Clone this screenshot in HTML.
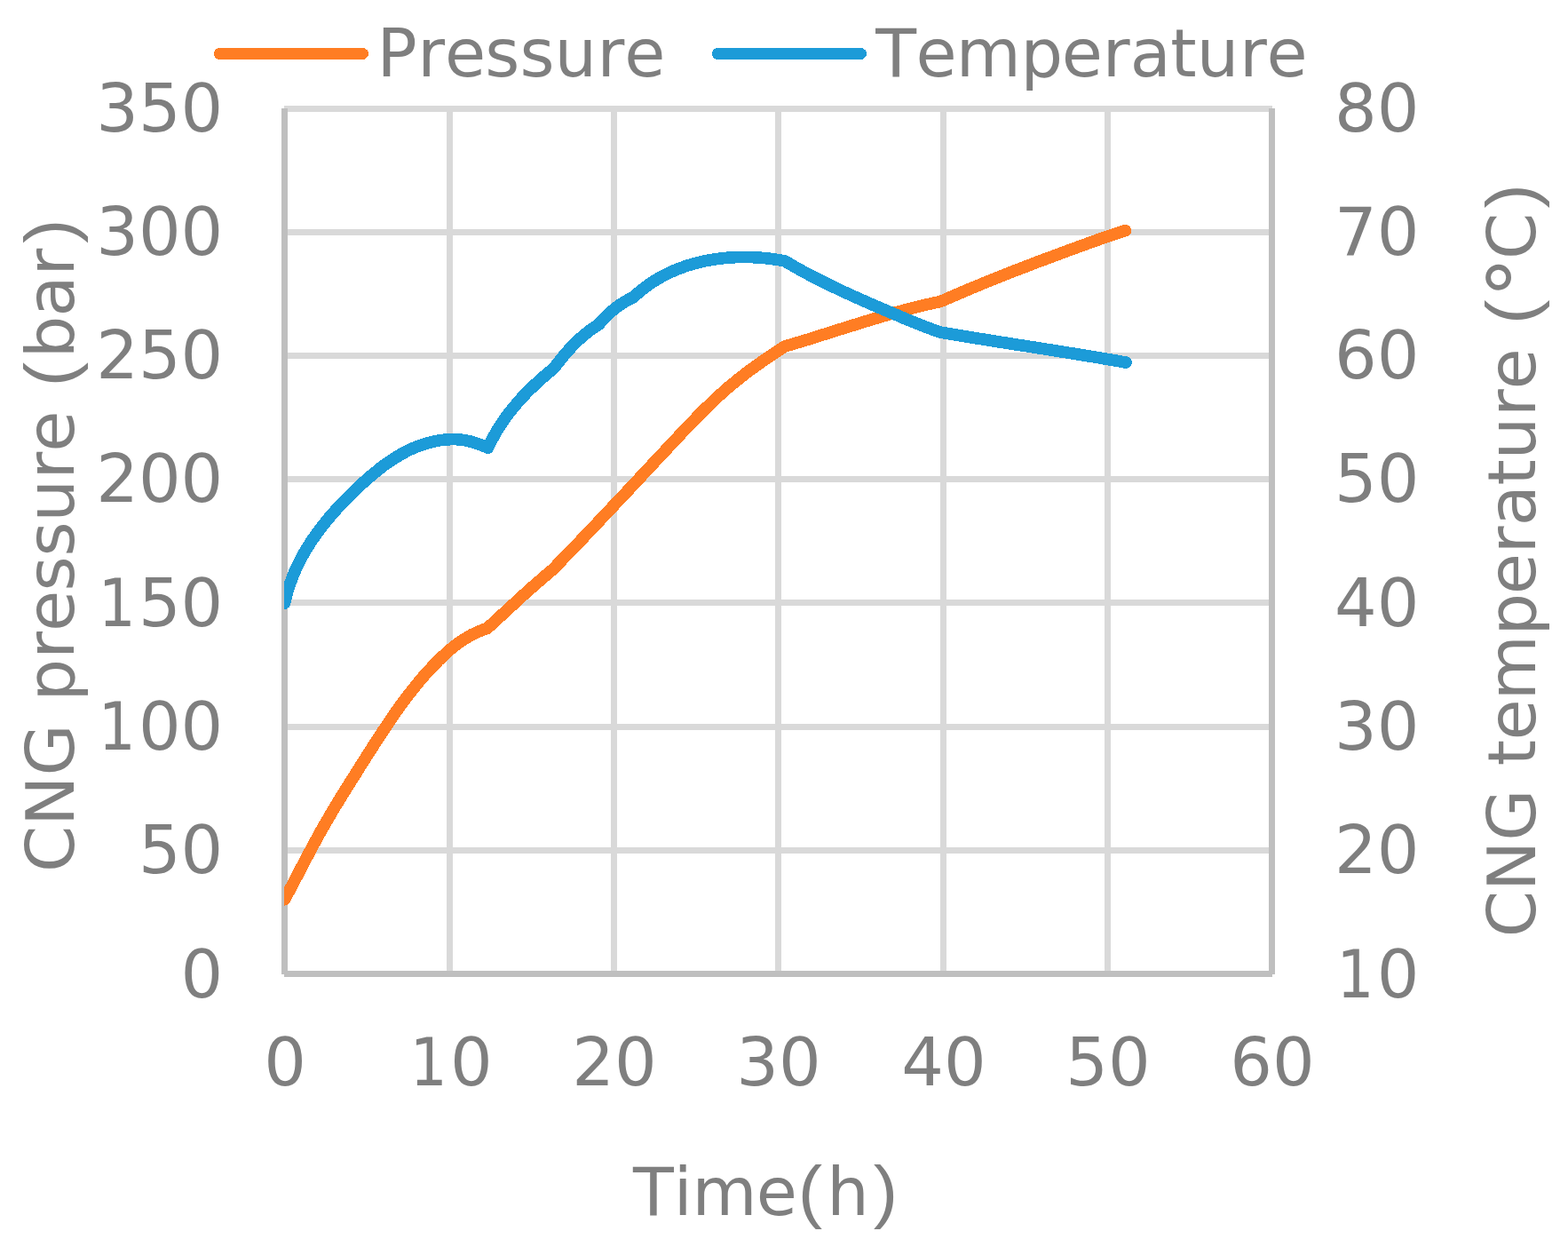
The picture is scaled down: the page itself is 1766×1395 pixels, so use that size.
<!DOCTYPE html>
<html lang="en">
<head>
<meta charset="utf-8">
<title>CNG pressure and temperature vs time</title>
<style>
html,body{margin:0;padding:0;background:#fff;}
body{width:1766px;height:1395px;overflow:hidden;}
svg{display:block;}
text{font-family:"DejaVu Sans","Liberation Sans",sans-serif;font-size:75px;fill:#7f7f7f;font-kerning:none;white-space:pre;}
</style>
</head>
<body>
<svg width="1766" height="1395" viewBox="0 0 1766 1395">
<rect width="1766" height="1395" fill="#fff"/>
<defs><clipPath id="plot"><rect x="320" y="100" width="1113" height="1020"/></clipPath></defs>

<g stroke="#d9d9d9" stroke-width="7" fill="none" shape-rendering="crispEdges">
<line x1="320" y1="122.5" x2="1433" y2="122.5"/>
<line x1="320" y1="261.5" x2="1433" y2="261.5"/>
<line x1="320" y1="400.5" x2="1433" y2="400.5"/>
<line x1="320" y1="539.5" x2="1433" y2="539.5"/>
<line x1="320" y1="678.5" x2="1433" y2="678.5"/>
<line x1="320" y1="818.5" x2="1433" y2="818.5"/>
<line x1="320" y1="957.5" x2="1433" y2="957.5"/>
<line x1="506.5" y1="122" x2="506.5" y2="1097"/>
<line x1="691.5" y1="122" x2="691.5" y2="1097"/>
<line x1="876.5" y1="122" x2="876.5" y2="1097"/>
<line x1="1062.5" y1="122" x2="1062.5" y2="1097"/>
<line x1="1247.5" y1="122" x2="1247.5" y2="1097"/>
</g>
<g stroke="#bfbfbf" stroke-width="7" fill="none" shape-rendering="crispEdges">
<line x1="320" y1="1096.5" x2="1433" y2="1096.5"/>
<line x1="320.5" y1="122" x2="320.5" y2="1097"/>
<line x1="1432.5" y1="122" x2="1432.5" y2="1097"/>
</g>
<g fill="none" stroke-width="13.6" stroke-linecap="round" stroke-linejoin="round" clip-path="url(#plot)" shape-rendering="crispEdges">
<path stroke="#ff7d23" d="M320.5,1012.7 L323.4,1007.4 L326.2,1002.1 L329.1,996.7 L331.9,991.4 L334.7,986.0 L337.5,980.6 L340.3,975.2 L343.1,969.9 L345.9,964.5 L348.8,959.1 L351.6,953.8 L354.5,948.4 L357.4,943.1 L360.3,937.8 L363.3,932.5 L366.3,927.3 L369.3,922.1 L372.4,916.9 L375.4,911.7 L378.6,906.5 L381.7,901.4 L384.8,896.2 L388.0,891.1 L391.2,886.0 L394.4,880.9 L397.6,875.8 L400.9,870.7 L404.1,865.5 L407.3,860.4 L410.6,855.3 L413.8,850.2 L417.1,845.0 L420.4,839.9 L423.7,834.8 L427.0,829.7 L430.3,824.6 L433.7,819.5 L437.1,814.5 L440.5,809.4 L443.9,804.4 L447.4,799.5 L451.0,794.5 L454.6,789.7 L458.2,784.8 L461.9,780.0 L465.6,775.3 L469.4,770.6 L473.3,765.9 L477.2,761.3 L481.2,756.8 L485.3,752.4 L489.4,748.0 L493.7,743.7 L498.0,739.5 L502.4,735.4 L506.9,731.4 L511.6,727.6 L516.4,724.0 L521.3,720.6 L526.4,717.5 L531.7,714.5 L537.1,711.9 L542.7,709.6 L548.6,707.6 L553.2,703.4 L557.8,699.2 L562.4,694.9 L567.0,690.7 L571.6,686.4 L576.2,682.2 L580.8,678.0 L585.4,673.7 L590.0,669.5 L594.7,665.4 L599.3,661.2 L604.0,657.1 L608.7,653.0 L613.5,648.9 L618.2,644.8 L623.0,640.8 L627.2,636.4 L631.4,632.1 L635.6,627.7 L639.8,623.4 L644.0,619.0 L648.2,614.6 L652.4,610.3 L656.6,605.9 L660.8,601.5 L664.9,597.1 L669.1,592.7 L673.3,588.3 L677.4,583.9 L681.6,579.5 L685.7,575.1 L689.9,570.7 L694.0,566.3 L698.2,561.9 L702.3,557.5 L706.5,553.1 L710.6,548.7 L714.7,544.3 L718.9,539.8 L723.0,535.4 L727.2,531.0 L731.3,526.6 L735.4,522.1 L739.6,517.7 L743.7,513.3 L747.8,508.9 L752.0,504.4 L756.1,500.0 L760.2,495.6 L764.4,491.2 L768.5,486.8 L772.7,482.4 L776.9,478.0 L781.1,473.6 L785.3,469.3 L789.6,465.0 L793.8,460.7 L798.2,456.5 L802.5,452.3 L806.9,448.2 L811.4,444.1 L815.9,440.1 L820.4,436.1 L825.1,432.2 L829.8,428.4 L834.5,424.6 L839.3,420.9 L844.1,417.2 L849.0,413.7 L854.0,410.1 L858.9,406.6 L863.9,403.2 L869.0,399.8 L874.0,396.5 L879.1,393.2 L884.2,389.9 L890.0,388.2 L895.8,386.5 L901.7,384.7 L907.5,382.9 L913.3,381.2 L919.1,379.3 L924.9,377.5 L930.7,375.7 L936.5,373.9 L942.2,372.0 L948.0,370.2 L953.8,368.4 L959.6,366.6 L965.4,364.8 L971.2,363.0 L977.0,361.2 L982.8,359.4 L988.7,357.7 L994.5,356.0 L1000.3,354.3 L1006.2,352.6 L1012.0,351.0 L1017.9,349.4 L1023.7,347.8 L1029.6,346.3 L1035.5,344.8 L1041.4,343.4 L1047.3,342.1 L1053.3,340.8 L1059.2,339.5 L1064.7,337.1 L1070.2,334.7 L1075.8,332.3 L1081.3,329.9 L1086.9,327.6 L1092.4,325.2 L1098.0,322.9 L1103.6,320.6 L1109.1,318.3 L1114.7,316.0 L1120.3,313.8 L1125.9,311.6 L1131.5,309.3 L1137.1,307.1 L1142.7,304.9 L1148.4,302.7 L1154.0,300.6 L1159.6,298.4 L1165.2,296.2 L1170.9,294.1 L1176.5,292.0 L1182.2,289.9 L1187.8,287.8 L1193.5,285.7 L1199.1,283.6 L1204.8,281.5 L1210.5,279.4 L1216.1,277.4 L1221.8,275.3 L1227.5,273.3 L1233.1,271.2 L1238.8,269.2 L1244.5,267.3 L1250.2,265.3 L1255.9,263.4 L1261.7,261.5 L1267.4,259.7"/>
<path stroke="#1c9bd8" d="M320.5,679.1 L321.9,673.0 L323.5,667.1 L325.3,661.2 L327.3,655.5 L329.4,649.8 L331.7,644.2 L334.2,638.7 L336.8,633.3 L339.5,628.0 L342.4,622.8 L345.4,617.7 L348.6,612.6 L351.9,607.6 L355.3,602.7 L358.8,597.8 L362.4,593.0 L366.2,588.3 L370.0,583.7 L373.9,579.1 L377.9,574.6 L382.0,570.1 L386.2,565.7 L390.5,561.3 L394.8,557.0 L399.2,552.7 L403.6,548.5 L408.1,544.3 L412.7,540.2 L417.3,536.2 L422.0,532.3 L426.7,528.4 L431.5,524.7 L436.4,521.2 L441.4,517.8 L446.5,514.6 L451.6,511.5 L456.9,508.7 L462.2,506.0 L467.7,503.6 L473.2,501.5 L478.9,499.6 L484.6,498.0 L490.5,496.6 L496.4,495.6 L502.5,494.9 L508.6,494.6 L514.7,494.7 L520.7,495.3 L526.7,496.3 L532.6,497.8 L538.3,499.7 L544.0,501.9 L549.6,504.2 L552.2,498.6 L555.1,493.1 L558.1,487.7 L561.2,482.4 L564.6,477.2 L568.0,472.1 L571.7,467.1 L575.5,462.2 L579.4,457.5 L583.4,452.7 L587.5,448.1 L591.8,443.6 L596.1,439.2 L600.6,434.9 L605.1,430.6 L609.7,426.5 L614.3,422.4 L619.0,418.5 L623.8,414.6 L627.7,409.5 L631.7,404.4 L635.8,399.4 L640.0,394.6 L644.4,389.9 L648.9,385.3 L653.6,380.9 L658.5,376.7 L663.5,372.7 L668.8,369.0 L674.2,365.5 L678.4,360.7 L682.7,356.1 L687.4,351.8 L692.2,347.6 L697.3,343.8 L702.6,340.3 L708.1,337.2 L713.8,334.4 L718.3,330.2 L723.0,326.3 L727.8,322.6 L732.8,319.1 L737.8,315.8 L743.0,312.7 L748.3,309.8 L753.7,307.2 L759.1,304.7 L764.7,302.4 L770.3,300.4 L776.0,298.5 L781.8,296.8 L787.7,295.3 L793.6,293.9 L799.5,292.8 L805.5,291.8 L811.5,291.0 L817.5,290.4 L823.6,289.9 L829.7,289.6 L835.7,289.5 L841.8,289.5 L847.9,289.7 L853.9,290.0 L860.0,290.5 L866.0,291.1 L872.0,291.9 L877.9,292.8 L883.8,293.8 L889.0,296.9 L894.2,299.9 L899.5,302.9 L904.8,305.8 L910.1,308.7 L915.5,311.5 L920.9,314.2 L926.3,317.0 L931.7,319.6 L937.1,322.3 L942.6,324.9 L948.1,327.5 L953.5,330.0 L959.0,332.5 L964.6,335.0 L970.1,337.5 L975.6,339.9 L981.2,342.4 L986.7,344.8 L992.3,347.2 L997.8,349.6 L1003.4,352.0 L1009.0,354.3 L1014.5,356.7 L1020.1,359.1 L1025.7,361.4 L1031.3,363.7 L1036.9,365.9 L1042.5,368.1 L1048.2,370.2 L1053.9,372.3 L1059.6,374.2 L1065.5,375.2 L1071.5,376.2 L1077.4,377.2 L1083.4,378.2 L1089.4,379.2 L1095.3,380.1 L1101.3,381.1 L1107.2,382.0 L1113.2,383.0 L1119.1,383.9 L1125.1,384.9 L1131.1,385.8 L1137.0,386.7 L1143.0,387.7 L1148.9,388.6 L1154.9,389.5 L1160.9,390.5 L1166.8,391.4 L1172.8,392.3 L1178.7,393.3 L1184.7,394.2 L1190.7,395.2 L1196.6,396.1 L1202.6,397.1 L1208.5,398.0 L1214.5,399.0 L1220.4,400.0 L1226.4,401.0 L1232.3,401.9 L1238.3,402.9 L1244.2,404.0 L1250.2,405.0 L1256.1,406.0 L1262.1,407.0 L1268.0,408.1"/>
</g>
<g fill="none" stroke-width="13" stroke-linecap="round" shape-rendering="crispEdges">
<line stroke="#ff7d23" x1="247.5" y1="60.5" x2="408.5" y2="60.5"/>
<line stroke="#1c9bd8" x1="808.5" y1="60.5" x2="969.5" y2="60.5"/>
</g>
<text transform="translate(424.40,85.70)" aria-label="Pressure"><tspan x="0.00 45.81 76.50 121.91 160.99 200.02 248.11 278.80" y="0">Pressure</tspan></text>
<text transform="translate(986.00,85.70)" aria-label="Temperature"><tspan x="0.20 45.48 90.84 163.40 209.84 255.83 286.80 332.37 361.82 409.90 440.59" y="0">Temperature</tspan></text>
<text transform="translate(108.26,147.60)" aria-label="350"><tspan x="-0.02 47.66 95.34" y="0">350</tspan></text>
<text transform="translate(108.26,286.89)" aria-label="300"><tspan x="-0.02 47.66 95.34" y="0">300</tspan></text>
<text transform="translate(108.26,426.17)" aria-label="250"><tspan x="-0.02 47.66 95.34" y="0">250</tspan></text>
<text transform="translate(108.26,565.46)" aria-label="200"><tspan x="-0.02 47.66 95.34" y="0">200</tspan></text>
<text transform="translate(108.26,704.74)" aria-label="150"><tspan x="2.54" y="0" textLength="41.99" lengthAdjust="spacingAndGlyphs">1</tspan><tspan x="47.66 95.34" y="0">50</tspan></text>
<text transform="translate(108.26,844.03)" aria-label="100"><tspan x="2.54" y="0" textLength="41.99" lengthAdjust="spacingAndGlyphs">1</tspan><tspan x="47.66 95.34" y="0">00</tspan></text>
<text transform="translate(155.94,983.31)" aria-label="50"><tspan x="-0.02 47.66" y="0">50</tspan></text>
<text transform="translate(203.62,1122.60)" aria-label="0"><tspan x="-0.02" y="0">0</tspan></text>
<text transform="translate(1503.00,147.60)" aria-label="80"><tspan x="-0.02 47.66" y="0">80</tspan></text>
<text transform="translate(1503.00,286.89)" aria-label="70"><tspan x="-0.02 47.66" y="0">70</tspan></text>
<text transform="translate(1503.00,426.17)" aria-label="60"><tspan x="-0.02 47.66" y="0">60</tspan></text>
<text transform="translate(1503.00,565.46)" aria-label="50"><tspan x="-0.02 47.66" y="0">50</tspan></text>
<text transform="translate(1503.00,704.74)" aria-label="40"><tspan x="-0.02 47.66" y="0">40</tspan></text>
<text transform="translate(1503.00,844.03)" aria-label="30"><tspan x="-0.02 47.66" y="0">30</tspan></text>
<text transform="translate(1503.00,983.31)" aria-label="20"><tspan x="-0.02 47.66" y="0">20</tspan></text>
<text transform="translate(1503.00,1122.60)" aria-label="10"><tspan x="2.54" y="0" textLength="41.99" lengthAdjust="spacingAndGlyphs">1</tspan><tspan x="47.66" y="0">0</tspan></text>
<text transform="translate(297.16,1222.00)" aria-label="0"><tspan x="-0.02" y="0">0</tspan></text>
<text transform="translate(459.32,1222.00)" aria-label="10"><tspan x="2.54" y="0" textLength="41.99" lengthAdjust="spacingAndGlyphs">1</tspan><tspan x="47.66" y="0">0</tspan></text>
<text transform="translate(644.32,1222.00)" aria-label="20"><tspan x="-0.02 47.66" y="0">20</tspan></text>
<text transform="translate(829.32,1222.00)" aria-label="30"><tspan x="-0.02 47.66" y="0">30</tspan></text>
<text transform="translate(1015.32,1222.00)" aria-label="40"><tspan x="-0.02 47.66" y="0">40</tspan></text>
<text transform="translate(1200.32,1222.00)" aria-label="50"><tspan x="-0.02 47.66" y="0">50</tspan></text>
<text transform="translate(1385.32,1222.00)" aria-label="60"><tspan x="-0.02 47.66" y="0">60</tspan></text>
<text transform="translate(712.70,1368.00)" aria-label="Time(h)"><tspan x="0.20 46.09 66.74 139.01" y="0">Time</tspan><tspan x="186.11" y="-0.5" font-family="Liberation Sans" font-size="78.5" textLength="27.45" lengthAdjust="spacingAndGlyphs">(</tspan><tspan x="218.44" y="0">h</tspan><tspan x="270.96" y="-0.5" font-family="Liberation Sans" font-size="78.5" textLength="27.45" lengthAdjust="spacingAndGlyphs">)</tspan></text>
<text transform="translate(83.40,982.00) rotate(-90)" aria-label="CNG pressure (bar)"><tspan x="0.00 52.37 108.49 167.89 192.55 240.31 271.00 316.41 355.48 394.52 442.60 473.29 519.96" y="0">CNG pressure </tspan><tspan x="546.76" y="-0.5" font-family="Liberation Sans" font-size="78.5" textLength="27.45" lengthAdjust="spacingAndGlyphs">(</tspan><tspan x="578.69 625.40 671.48" y="0">bar</tspan><tspan x="707.92" y="-0.5" font-family="Liberation Sans" font-size="78.5" textLength="27.45" lengthAdjust="spacingAndGlyphs">)</tspan></text>
<text transform="translate(1729.40,1055.30) rotate(-90)" aria-label="CNG temperature (°C)"><tspan x="0.00 52.37 108.49 167.89 193.07 221.81 267.17 339.73 386.17 432.17 463.13 508.70 538.15 586.23 616.92 663.59" y="0">CNG temperature </tspan><tspan x="690.38" y="-0.5" font-family="Liberation Sans" font-size="78.5" textLength="27.45" lengthAdjust="spacingAndGlyphs">(</tspan><tspan x="719.83" y="13.0" font-size="93.0">°</tspan><tspan x="763.40" y="0">C</tspan><tspan x="820.79" y="-0.5" font-family="Liberation Sans" font-size="78.5" textLength="27.45" lengthAdjust="spacingAndGlyphs">)</tspan></text>
</svg>
</body>
</html>
